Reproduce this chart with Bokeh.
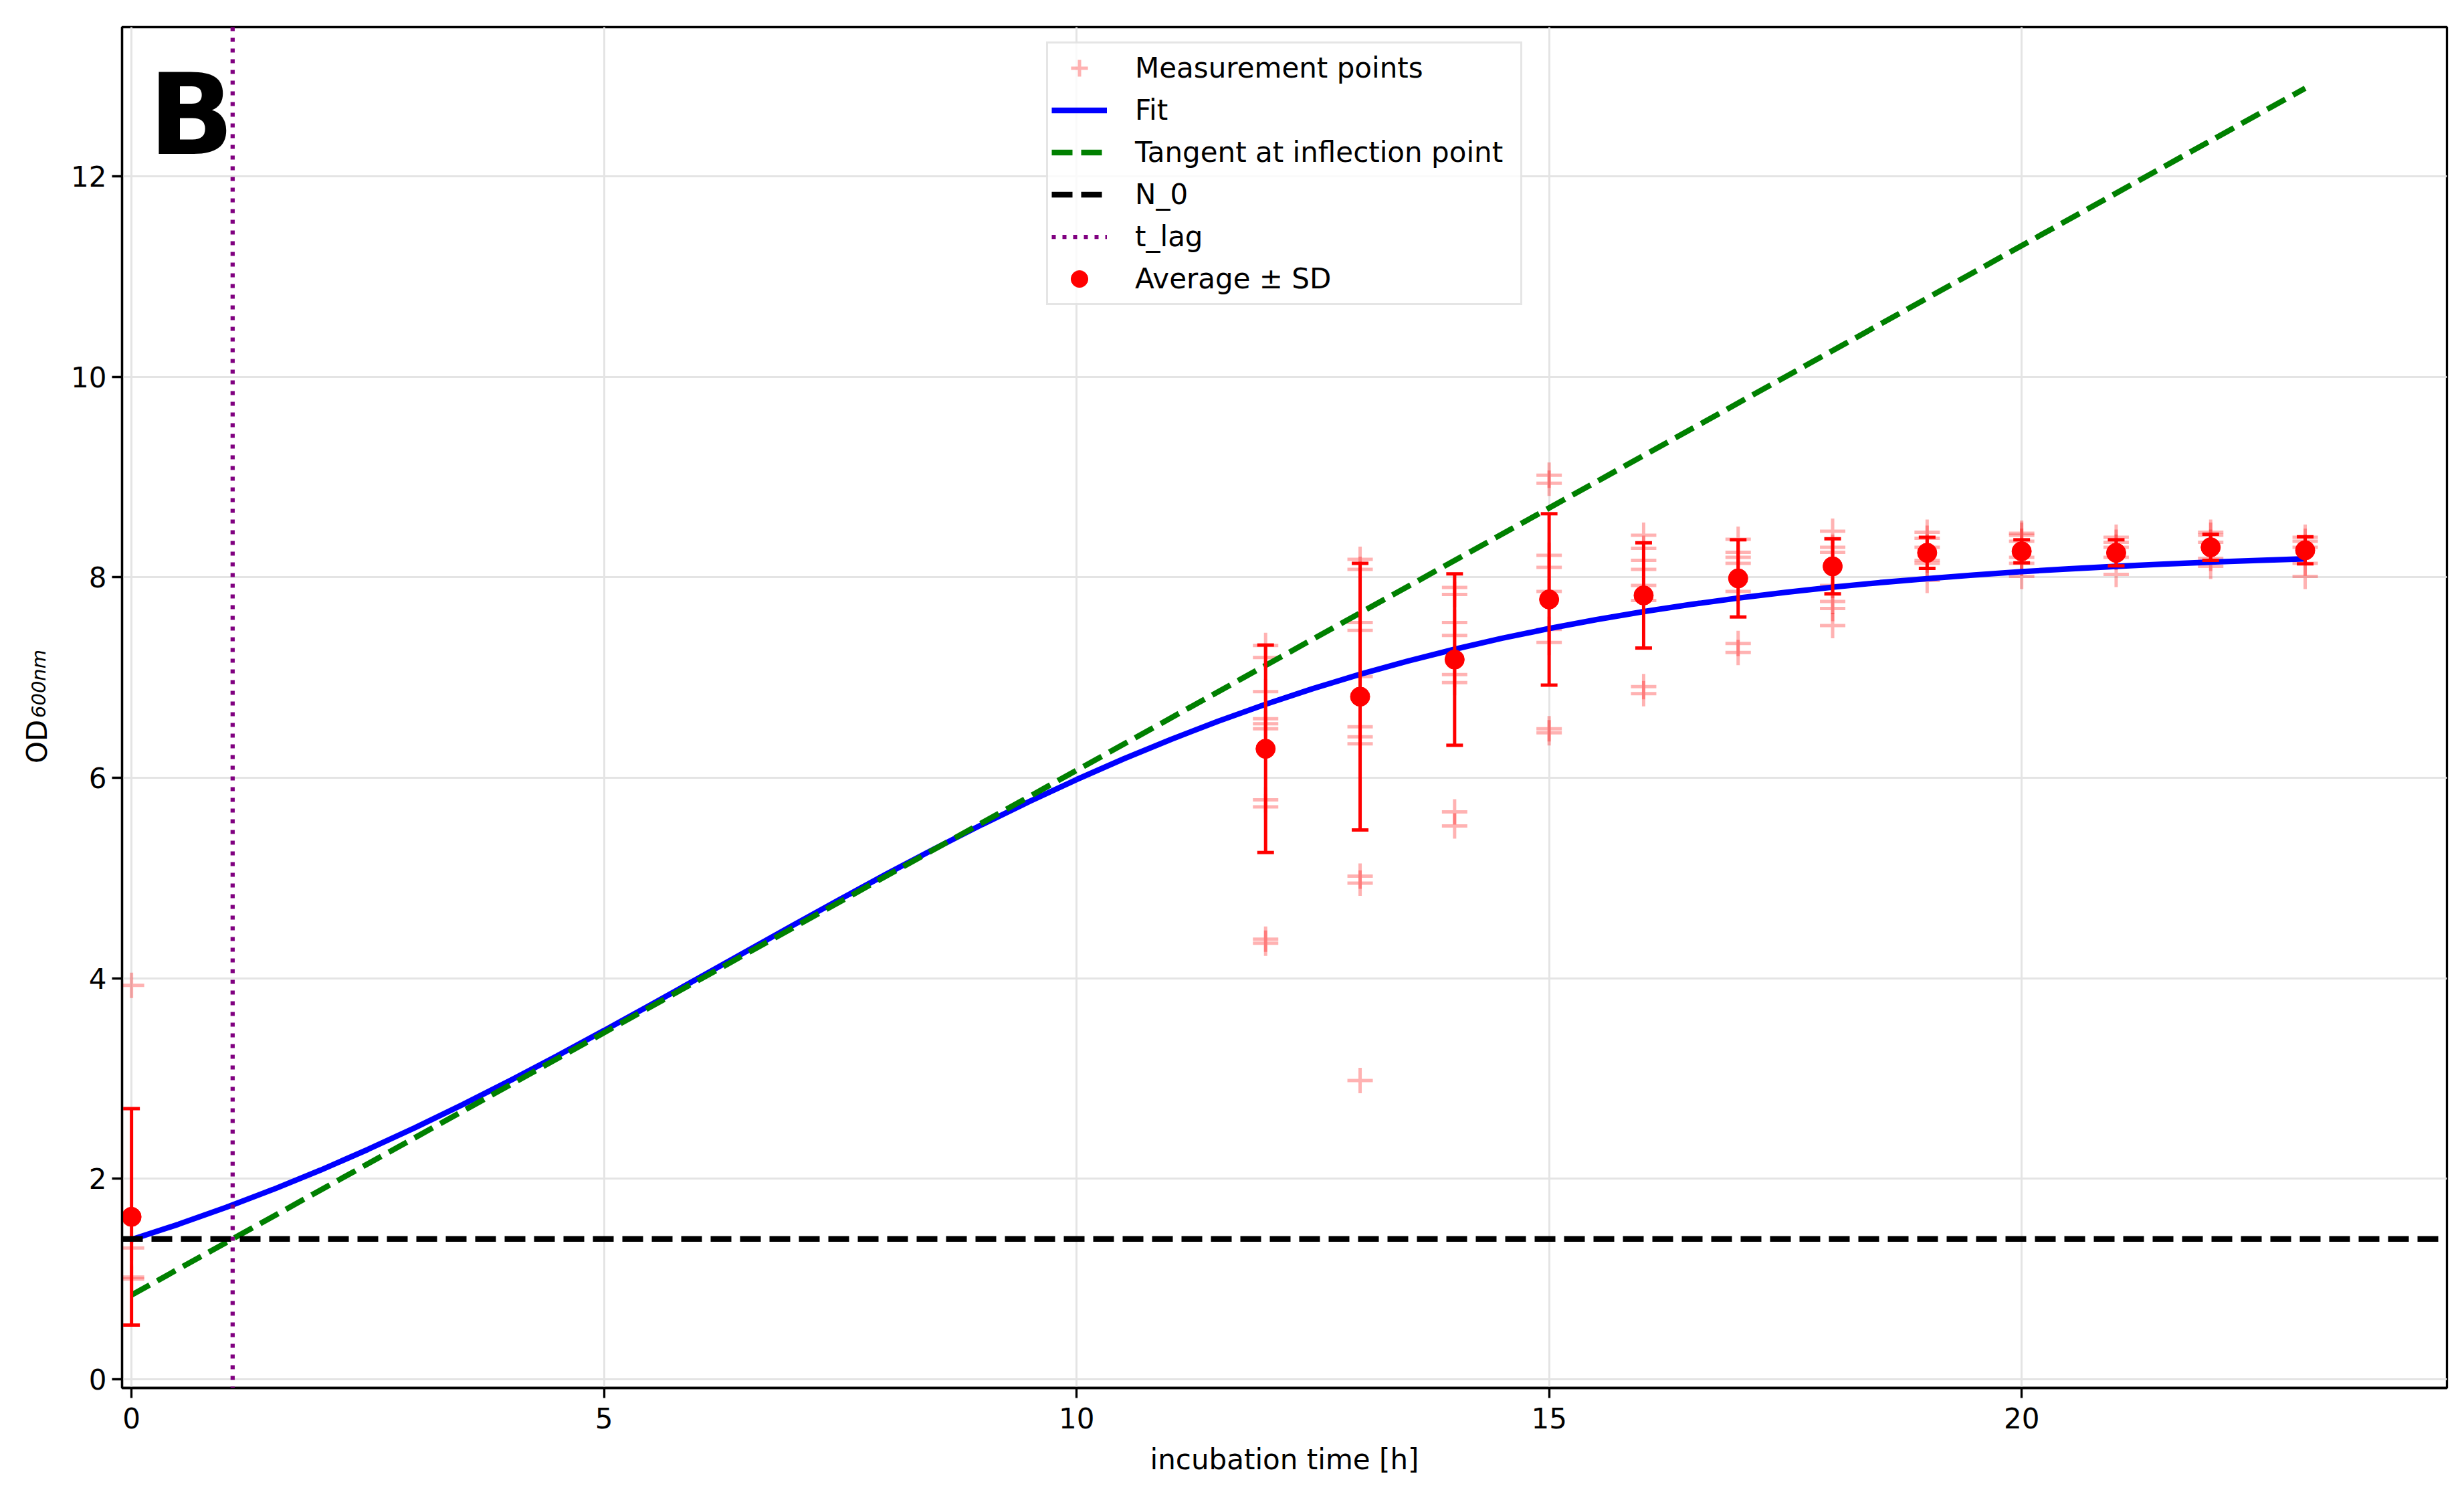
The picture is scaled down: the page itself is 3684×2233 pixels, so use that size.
import math
from bokeh.plotting import figure
from bokeh.models import ColumnDataSource, Span, Label, Legend, LegendItem, FixedTicker, Range1d
from bokeh.embed import file_html
from bokeh.resources import INLINE

# ---------------- data ----------------
meas_times = [0, 12, 13, 14, 15, 16, 17, 18, 19, 20, 21, 22, 23]
meas_values = [
    [3.93, 1.31, 1.02, 1.0],
    [7.32, 7.2, 6.86, 6.59, 6.54, 6.49, 5.78, 5.71, 4.39, 4.35],
    [8.18, 8.08, 7.55, 7.47, 7.01, 6.51, 6.41, 6.34, 5.02, 4.95, 2.98],
    [7.9, 7.83, 7.55, 7.42, 7.03, 6.95, 5.66, 5.52],
    [9.02, 8.94, 8.22, 8.1, 7.86, 7.48, 7.35, 6.49, 6.45],
    [8.42, 8.29, 8.17, 8.08, 7.92, 7.77, 6.91, 6.84],
    [8.38, 8.25, 8.2, 8.14, 7.86, 7.34, 7.25],
    [8.46, 8.3, 8.25, 7.92, 7.76, 7.69, 7.52],
    [8.45, 8.39, 8.3, 8.17, 8.14, 7.97],
    [8.44, 8.42, 8.36, 8.2, 8.14, 8.01],
    [8.4, 8.35, 8.3, 8.2, 8.03],
    [8.45, 8.42, 8.35, 8.19, 8.11],
    [8.4, 8.36, 8.3, 8.14, 8.01],
]

avg_times = [0, 12, 13, 14, 15, 16, 17, 18, 19, 20, 21, 22, 23]
avg_od = [1.62, 6.29, 6.81, 7.18, 7.78, 7.82, 7.99, 8.11, 8.245, 8.26, 8.245, 8.30, 8.27]
sd_od = [1.08, 1.035, 1.33, 0.855, 0.855, 0.525, 0.385, 0.275, 0.155, 0.115, 0.13, 0.13, 0.135]

fit_t = [0, 0.5, 1, 1.5, 2, 2.5, 3, 3.5, 4, 4.5, 5, 5.5, 6, 6.5, 7, 7.5, 8, 8.5, 9, 9.5,
         10, 10.5, 11, 11.5, 12, 12.5, 13, 13.5, 14, 14.5, 15, 15.5, 16, 16.5, 17, 17.5,
         18, 18.5, 19, 19.5, 20, 20.5, 21, 21.5, 22, 22.5, 23]
fit_od = [1.393, 1.547, 1.714, 1.894, 2.086, 2.292, 2.509, 2.738, 2.977, 3.224, 3.479,
          3.739, 4.002, 4.266, 4.530, 4.790, 5.046, 5.294, 5.534, 5.764, 5.983, 6.190,
          6.384, 6.565, 6.734, 6.890, 7.033, 7.164, 7.283, 7.392, 7.490, 7.578, 7.658,
          7.730, 7.793, 7.851, 7.902, 7.948, 7.988, 8.024, 8.057, 8.085, 8.110, 8.132,
          8.152, 8.169, 8.185]

tangent_t = [0, 23]
tangent_od = [0.84, 12.88]

n0_value = 1.4
t_lag_value = 1.07

x_ticks = [0, 5, 10, 15, 20]
y_ticks = [0, 2, 4, 6, 8, 10, 12]

# ---------------- build sources ----------------
mx, my = [], []
for t, vals in zip(meas_times, meas_values):
    for v in vals:
        mx.append(t)
        my.append(v)
meas_src = ColumnDataSource(dict(t=mx, od=my))

avg_src = ColumnDataSource(dict(
    t=avg_times,
    od=avg_od,
    lo=[m - s for m, s in zip(avg_od, sd_od)],
    hi=[m + s for m, s in zip(avg_od, sd_od)],
))

FONT = "DejaVu Sans"

p = figure(width=3668, height=2217, output_backend="svg", toolbar_location=None,
           x_range=Range1d(-0.1, 24.5), y_range=Range1d(-0.087, 13.49),
           min_border_left=182, min_border_right=10, min_border_top=40, min_border_bottom=143)
p.background_fill_color = "white"
p.border_fill_color = "white"
p.outline_line_color = "black"
p.outline_line_width = 3.3

# grid
for g in (p.xgrid, p.ygrid):
    g.grid_line_color = "#e4e4e4"
    g.grid_line_width = 3
p.xgrid.ticker = FixedTicker(ticks=x_ticks)
p.ygrid.ticker = FixedTicker(ticks=y_ticks)

# axes
p.xaxis.ticker = FixedTicker(ticks=x_ticks)
p.yaxis.ticker = FixedTicker(ticks=y_ticks)
for ax in (p.xaxis[0], p.yaxis[0]):
    ax.axis_line_color = "black"
    ax.axis_line_width = 3.3
    ax.major_tick_line_color = "black"
    ax.major_tick_line_width = 3.3
    ax.major_tick_out = 15
    ax.major_tick_in = 0
    ax.minor_tick_line_color = None
    ax.major_label_text_font = FONT
    ax.major_label_text_font_size = "42px"
    ax.major_label_text_color = "black"
    ax.axis_label_text_font = FONT
    ax.axis_label_text_font_style = "normal"
    ax.axis_label_text_color = "black"
p.xaxis.axis_label = "incubation time [h]"
p.xaxis.axis_label_text_font_size = "42px"
p.xaxis.major_label_standoff = 14
p.xaxis.axis_label_standoff = 19
p.yaxis.major_label_standoff = 8

# y axis label: "OD" with italic subscript "600nm", placed in the left border panel
p.add_layout(Label(x=-1.0, y=6.144, angle=math.pi / 2,
                   text="OD", text_font=FONT, text_font_size="42px", text_color="black",
                   text_baseline="alphabetic", text_align="left"), "left")
p.add_layout(Label(x=-0.98, y=6.598, angle=math.pi / 2,
                   text="600nm", text_font=FONT, text_font_size="29px", text_font_style="italic",
                   text_color="black", text_baseline="alphabetic", text_align="left"), "left")

# ---------------- glyphs ----------------
r_meas = p.scatter("t", "od", source=meas_src, marker="cross", size=38,
                   line_color="red", line_width=5, line_alpha=0.3)
r_fit = p.line(fit_t, fit_od, line_color="#0000ff", line_width=8.3)
r_tan = p.line(tangent_t, tangent_od, line_color="#008000", line_width=8.3, line_dash="31 13")

# legend proxies for the reference lines (a single NaN point draws nothing in the plot)
r_n0 = p.line(x=[math.nan], y=[math.nan], line_color="black", line_width=8.3, line_dash="31 13")
r_lag = p.line(x=[math.nan], y=[math.nan], line_color="#800080", line_width=6.25, line_dash="6 10")

p.add_layout(Span(location=n0_value, dimension="width", line_color="black",
                  line_width=8.3, line_dash="31 13"))
p.add_layout(Span(location=t_lag_value, dimension="height", line_color="#800080",
                  line_width=6.25, line_dash="6 10"))

# error bars
p.segment(x0="t", y0="lo", x1="t", y1="hi", source=avg_src, line_color="red", line_width=5)
p.scatter("t", "hi", source=avg_src, marker="dash", size=25, line_color="red", line_width=5)
p.scatter("t", "lo", source=avg_src, marker="dash", size=25, line_color="red", line_width=5)
r_avg = p.scatter("t", "od", source=avg_src, marker="circle", size=29,
                  fill_color="red", line_color="red", line_width=1)

# panel letter
p.add_layout(Label(x=0.18, y=12.61, text="B", text_font=FONT, text_font_size="168px",
                   text_font_style="bold", text_color="black", text_baseline="alphabetic"))

legend = Legend(items=[
    LegendItem(label="Measurement points", renderers=[r_meas]),
    LegendItem(label="Fit", renderers=[r_fit]),
    LegendItem(label="Tangent at inflection point", renderers=[r_tan]),
    LegendItem(label="N_0", renderers=[r_n0]),
    LegendItem(label="t_lag", renderers=[r_lag]),
    LegendItem(label="Average ± SD", renderers=[r_avg]),
], location="top_center")
legend.margin = 22
legend.padding = 5
legend.spacing = 0
legend.glyph_width = 83
legend.glyph_height = 63
legend.label_height = 50
legend.label_width = 571
legend.label_standoff = 42
legend.label_text_font = FONT
legend.label_text_font_size = "42px"
legend.label_text_color = "black"
legend.border_line_color = "#cccccc"
legend.border_line_width = 3
legend.background_fill_color = "white"
legend.background_fill_alpha = 0.8
p.add_layout(legend)

open("out.html", "w").write(file_html(p, INLINE))
